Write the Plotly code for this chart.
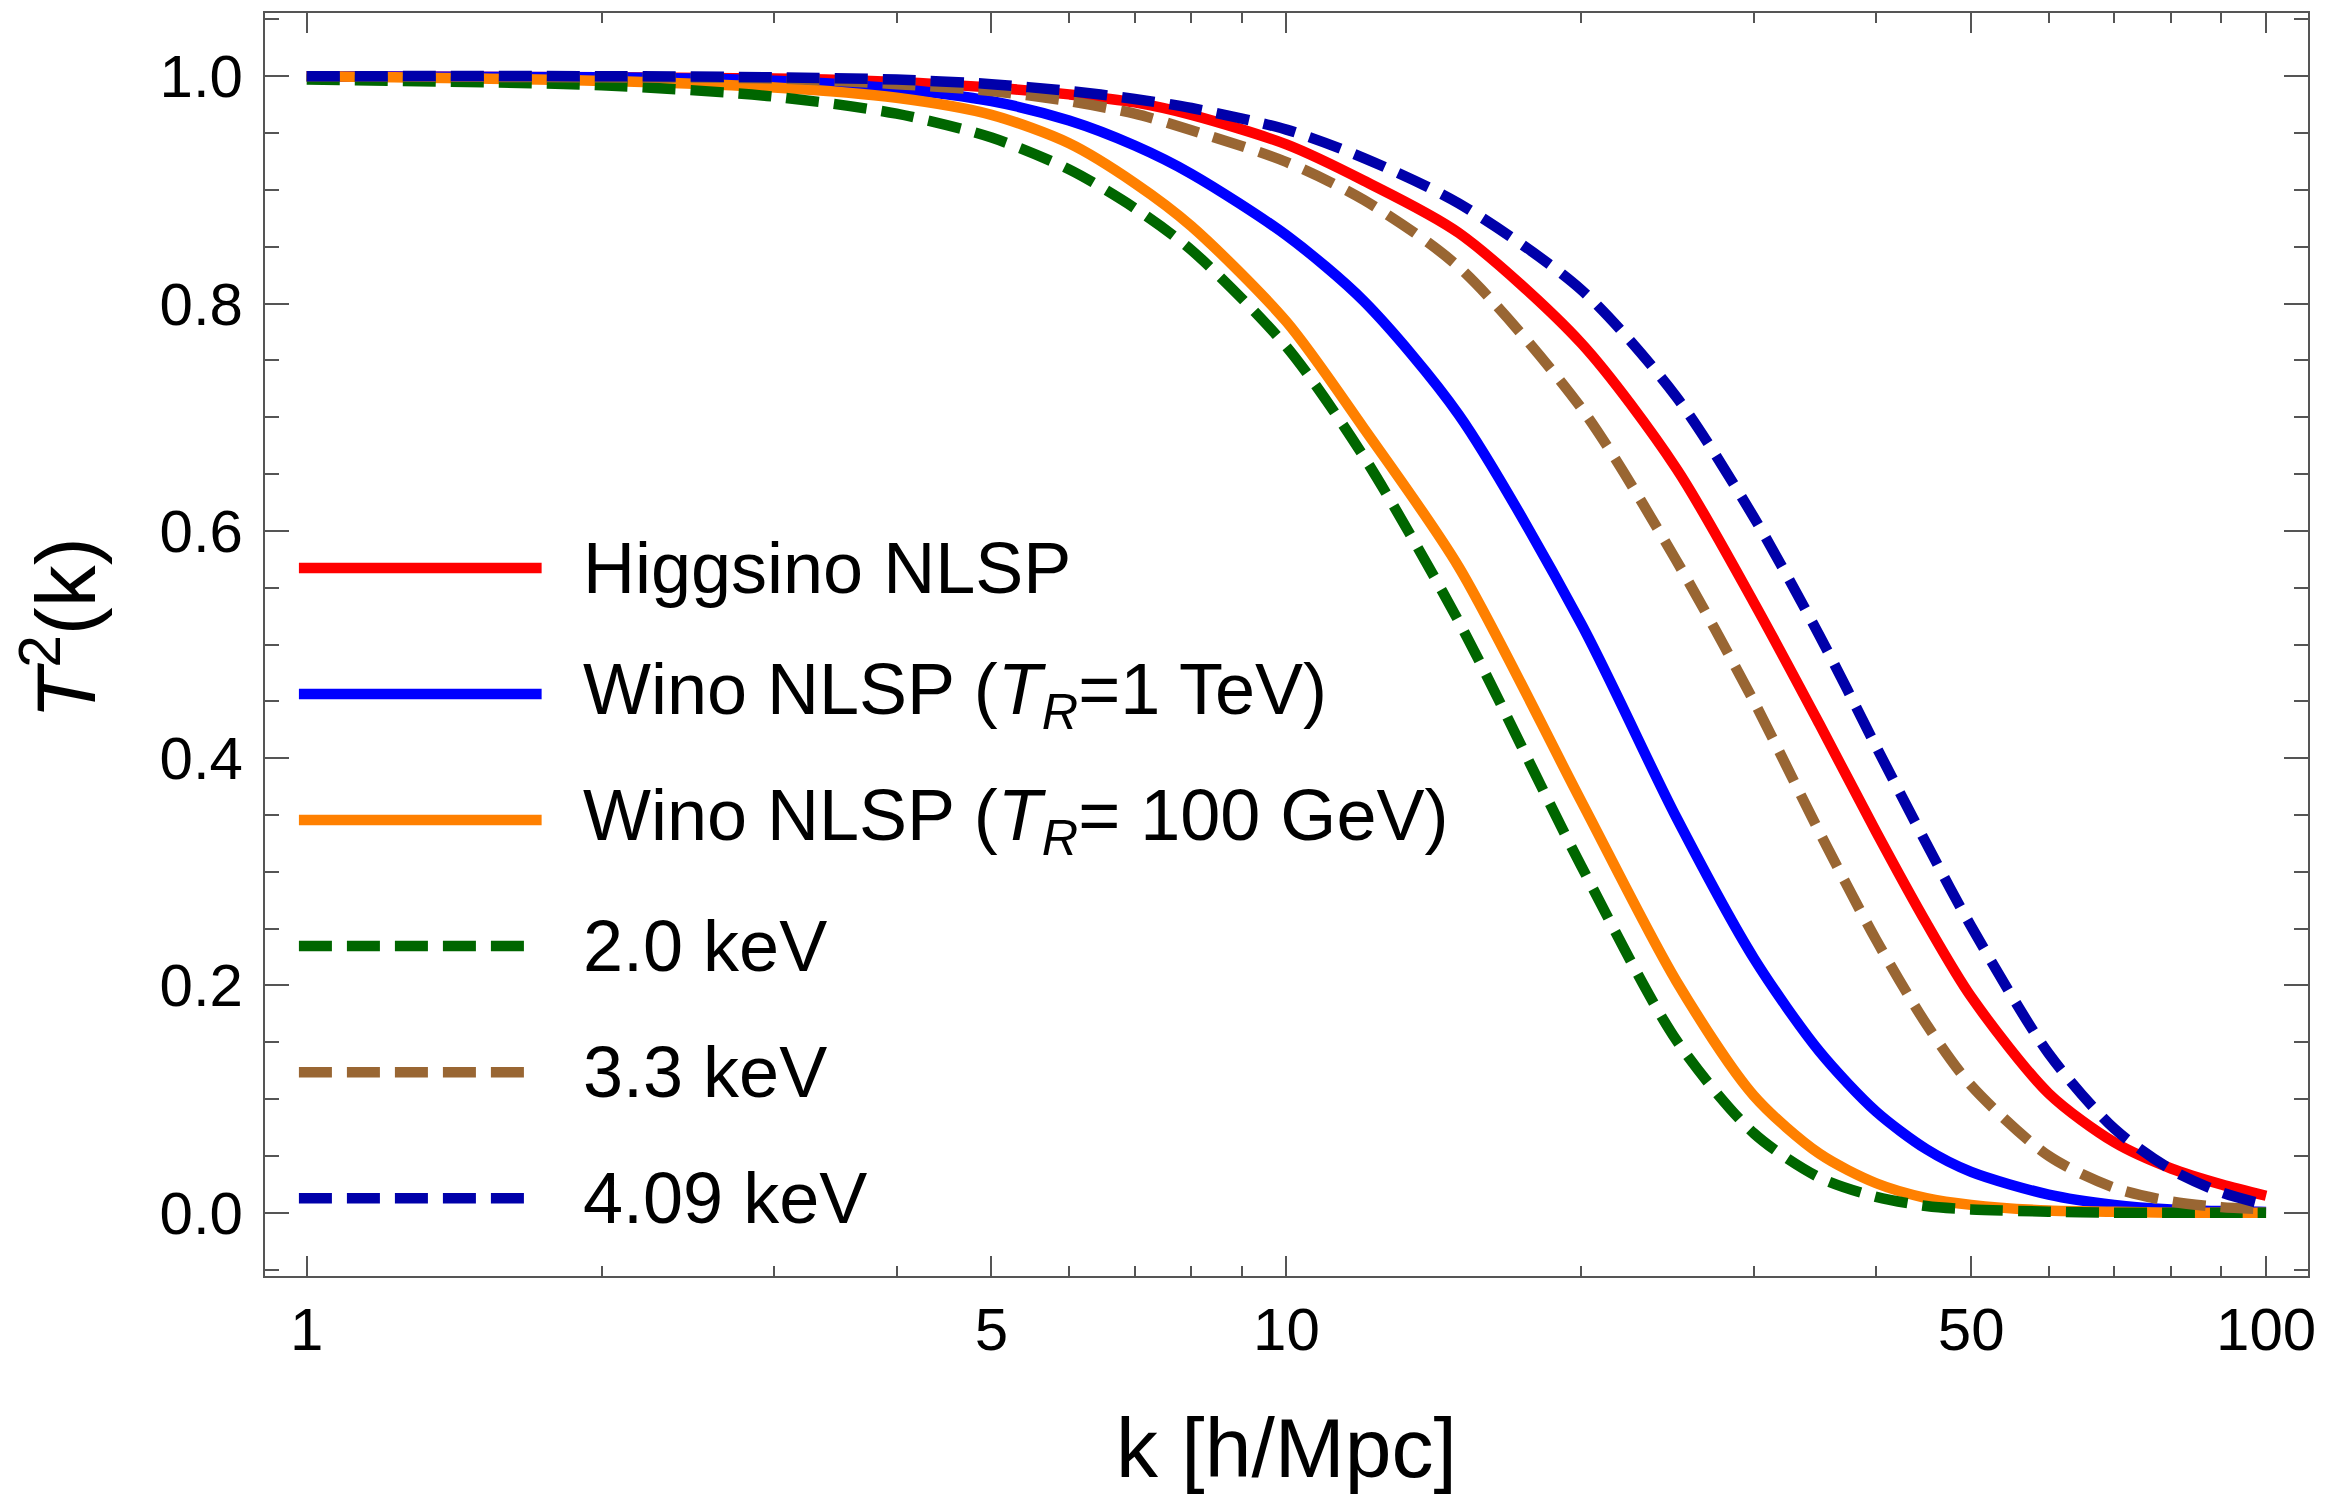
import plotly.graph_objects as go

# ---- data ----
k = [1, 2, 3, 4, 5, 6, 7, 8, 10, 12, 15, 20, 25, 30, 35, 40, 45, 50, 60, 70, 80, 90, 100]

higgsino = [1.0, 0.999, 0.998, 0.995, 0.990, 0.984, 0.977, 0.966, 0.940, 0.908, 0.862, 0.765, 0.655,
            0.537, 0.430, 0.335, 0.255, 0.190, 0.105, 0.062, 0.039, 0.025, 0.015]
wino_1tev = [1.0, 0.999, 0.996, 0.989, 0.978, 0.961, 0.939, 0.914, 0.860, 0.802, 0.702, 0.518, 0.348,
             0.224, 0.142, 0.089, 0.056, 0.036, 0.016, 0.007, 0.003, 0.0015, 0.0008]
wino_100gev = [1.0, 0.996, 0.990, 0.981, 0.966, 0.941, 0.906, 0.868, 0.784, 0.690, 0.568, 0.362, 0.204,
               0.103, 0.052, 0.026, 0.013, 0.007, 0.002, 0.001, 0.0, 0.0, 0.0]
wdm_2_0 = [0.997, 0.992, 0.982, 0.967, 0.946, 0.918, 0.884, 0.847, 0.762, 0.665, 0.520, 0.305, 0.152,
           0.070, 0.031, 0.014, 0.006, 0.003, 0.001, 0.0, 0.0, 0.0, 0.0]
wdm_3_3 = [1.0, 0.999, 0.998, 0.993, 0.987, 0.978, 0.967, 0.9525, 0.9245, 0.891, 0.832, 0.708, 0.574,
           0.450, 0.335, 0.240, 0.166, 0.112, 0.050, 0.022, 0.010, 0.005, 0.003]
wdm_4_09 = [1.0, 1.0, 0.999, 0.997, 0.993, 0.987, 0.980, 0.972, 0.953, 0.928, 0.888, 0.812, 0.718,
            0.612, 0.508, 0.410, 0.325, 0.252, 0.140, 0.074, 0.038, 0.018, 0.007]

names = ["Higgsino NLSP",
         "Wino NLSP (<i>T</i><sub><i>R</i></sub>=1 TeV)",
         "Wino NLSP (<i>T</i><sub><i>R</i></sub>= 100 GeV)",
         "2.0 keV", "3.3 keV", "4.09 keV"]
series = [higgsino, wino_1tev, wino_100gev, wdm_2_0, wdm_3_3, wdm_4_09]
colors = ["#FF0000", "#0000FF", "#FF8000", "#006600", "#996633", "#0000AA"]
dashes = ["solid", "solid", "solid", "33px,15px", "33px,15px", "33px,15px"]

x_major = [1, 5, 10, 50, 100]
x_major_text = ["1", "5", "10", "50", "100"]
x_minor = [2, 3, 4, 6, 7, 8, 9, 20, 30, 40, 60, 70, 80, 90]
y_major = [0.0, 0.2, 0.4, 0.6, 0.8, 1.0]
y_major_text = ["0.0", "0.2", "0.4", "0.6", "0.8", "1.0"]
y_minor = [-0.05, 0.05, 0.1, 0.15, 0.25, 0.3, 0.35, 0.45, 0.5, 0.55, 0.65, 0.7, 0.75,
           0.85, 0.9, 0.95, 1.05]

FONT = "Liberation Sans, Arial, Helvetica, sans-serif"
LW = 10.5

fig = go.Figure()
for name, ys, col, dsh in zip(names, series, colors, dashes):
    fig.add_trace(go.Scatter(x=k, y=ys, mode="lines", name=name, showlegend=False,
                             line=dict(color=col, width=LW, dash=dsh, shape="spline", smoothing=0.8)))

# ---- custom legend (long line samples) ----
leg_x0, leg_x1_solid, leg_x1_dash = 0.0166, 0.1354, 0.128
leg_text_x = 0.1549
leg_y_top, leg_dy = 0.5606, 0.0998
shapes = []
annotations = []
for i, (name, col, dsh) in enumerate(zip(names, colors, dashes)):
    yy = leg_y_top - i * leg_dy
    x1 = leg_x1_solid if dsh == "solid" else leg_x1_dash
    shapes.append(dict(type="line", xref="paper", yref="paper", x0=leg_x0, x1=x1, y0=yy, y1=yy,
                       line=dict(color=col, width=LW, dash=dsh)))
    annotations.append(dict(xref="paper", yref="paper", x=leg_text_x, y=yy, xanchor="left",
                            yanchor="middle", text=name, showarrow=False,
                            font=dict(family=FONT, size=72, color="black")))

# axis titles
annotations.append(dict(xref="paper", yref="paper", x=0.5, y=-0.136, xanchor="center",
                        yanchor="middle", text="k [h/Mpc]", showarrow=False,
                        font=dict(family=FONT, size=84, color="black")))
annotations.append(dict(xref="paper", yref="paper", x=-0.1003, y=0.513, xanchor="center",
                        yanchor="middle", text="<i>T</i><sup>2</sup>(k)", textangle=-90,
                        showarrow=False, font=dict(family=FONT, size=84, color="black")))

axis_color = "#555555"
fig.update_layout(
    width=2346, height=1500,
    margin=dict(l=265, r=38, t=13, b=224),
    paper_bgcolor="white", plot_bgcolor="white",
    showlegend=False,
    shapes=shapes, annotations=annotations,
    xaxis=dict(type="log", range=[-0.0426, 2.0428], showgrid=False, zeroline=False,
               showline=True, linecolor=axis_color, linewidth=2, mirror="ticks",
               ticks="inside", ticklen=20, tickwidth=2, tickcolor=axis_color,
               tickmode="array", tickvals=x_major, ticktext=x_major_text,
               ticklabelstandoff=0,
               tickfont=dict(family=FONT, size=60, color="black"),
               minor=dict(tickmode="array", tickvals=x_minor, ticks="inside", ticklen=10,
                          tickwidth=1.5, tickcolor=axis_color, showgrid=False)),
    yaxis=dict(range=[-0.0556, 1.0556], showgrid=False, zeroline=False,
               showline=True, linecolor=axis_color, linewidth=2, mirror="ticks",
               ticks="inside", ticklen=24, tickwidth=2, tickcolor=axis_color,
               tickmode="array", tickvals=y_major, ticktext=y_major_text,
               ticklabelstandoff=8,
               tickfont=dict(family=FONT, size=60, color="black"),
               minor=dict(tickmode="array", tickvals=y_minor, ticks="inside", ticklen=14,
                          tickwidth=1.5, tickcolor=axis_color, showgrid=False)),
)

fig.write_html("out.html")
